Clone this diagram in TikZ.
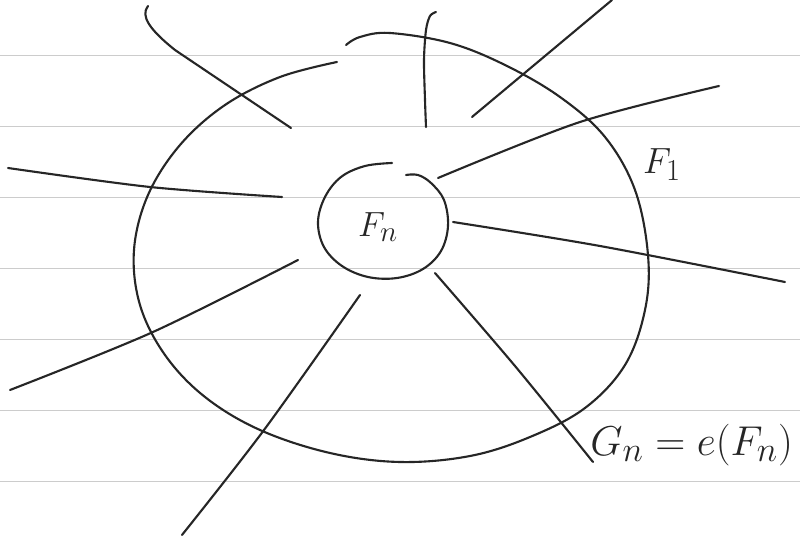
\documentclass[tikz,border=0pt]{standalone}
\usepackage{tikz}

\begin{document}
\begin{tikzpicture}[x=0.03cm, y=-0.03cm,
    pen/.style={draw=black!85, line width=1.8pt, line cap=round, line join=round},
    rule/.style={draw=black!20, line width=0.8pt},
    lab/.style={inner sep=0pt, text=black!85, font=\Huge}]
  \useasboundingbox[fill=white] (0,0) rectangle (800,541);
  % ruled paper
  \foreach \ry in {55,126,197,268,339,410,481}
    \draw[rule] (0,\ry) -- (800,\ry);
  % outer region F_1
  \draw[pen] plot[smooth, tension=0.6] coordinates {(337,62) (280,77) (225,105) (180,145) (148,195)
    (134,250) (140,305) (165,355) (205,397) (260,430) (330,453) (400,462) (470,456) (530,437)
    (585,408) (625,365) (645,310) (648,255) (635,190) (605,137) (560,97) (505,65) (450,43)
    (390,33) (360,37) (346,45)};
  % inner region F_n
  \draw[pen] plot[smooth, tension=0.6] coordinates {(392,163) (365,166) (341,177) (325,197) (318,222)
    (324,247) (342,266) (368,277) (397,278) (423,269) (441,251) (448,226) (444,200) (431,183)
    (418,175) (406,175)};
  % spokes
  \draw[pen] (148,6) .. controls (140,16) and (150,30) .. (175,50) -- (291,128);
  \draw[pen] plot[smooth] coordinates {(436,12) (430,16) (426,30) (424,60) (425,100) (426,127)};
  \draw[pen] (612,0) -- (472,117);
  \draw[pen] plot[smooth] coordinates {(719,86) (580,122) (438,178)};
  \draw[pen] plot[smooth] coordinates {(453,222) (600,246) (785,282)};
  \draw[pen] plot[smooth] coordinates {(435,273) (515,366) (593,462)};
  \draw[pen] plot[smooth] coordinates {(360,295) (264,430) (182,535)};
  \draw[pen] plot[smooth] coordinates {(298,260) (153,332) (10,390)};
  \draw[pen] plot[smooth] coordinates {(8,168) (150,187) (282,197)};
  % labels
  \node[lab, scale=1.2] (fn) at (378,227) {$F_n$};
  \node[lab, scale=1.25] (fone) at (662,165) {$F_1$};
  \node[lab, anchor=base west, scale=1.43] (gn) at (590,455) {$G_n = e(F_n)$};
\end{tikzpicture}
\end{document}
